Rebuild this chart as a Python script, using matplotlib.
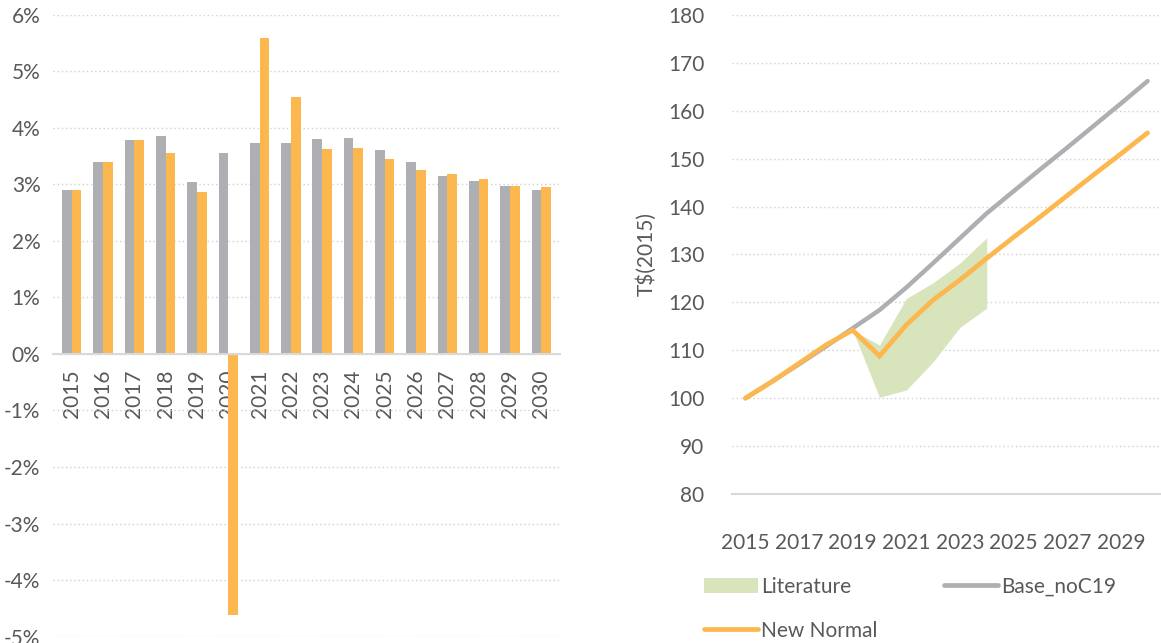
import numpy as np
import matplotlib
matplotlib.use("Agg")
from matplotlib import pyplot as plt
from matplotlib.patches import Patch
from matplotlib.lines import Line2D
from matplotlib.ticker import FuncFormatter

plt.rcParams['font.family'] = ['Lato', 'DejaVu Sans']

# ---- data ----
years = list(range(2015, 2031))
growth_base = [2.91, 3.40, 3.78, 3.85, 3.05, 3.56, 3.74, 3.74, 3.81, 3.83,
               3.61, 3.39, 3.15, 3.07, 2.98, 2.90]
growth_new = [2.91, 3.40, 3.78, 3.55, 2.87, -4.62, 5.59, 4.55, 3.63, 3.65,
              3.45, 3.26, 3.18, 3.09, 2.98, 2.95]

gdp_base = [100.0, 103.5, 107.1, 110.8, 114.6, 118.4, 123.1, 128.2, 133.4, 138.6,
            143.2, 147.8, 152.3, 156.9, 161.5, 166.2]
gdp_new = [100.0, 103.5, 107.3, 111.1, 114.2, 108.8, 115.3, 120.5, 124.7, 129.2,
           133.6, 137.9, 142.3, 146.7, 151.0, 155.4]
lit_years = [2019, 2020, 2021, 2022, 2023, 2024]
lit_low = [114.2, 100.2, 101.7, 107.6, 114.8, 118.8]
lit_high = [114.2, 111.1, 120.8, 124.1, 128.2, 133.5]

# ---- style ----
GRAY = '#AEAFB2'
ORANGE = '#FDB74F'
GREEN = '#D8E4BC'
TXT = '#595959'
GRID = '#D0D0D0'
FS = 15

fig = plt.figure(figsize=(11.61, 6.43), dpi=100)

### Left: growth bars ###
ax1 = fig.add_axes([0.0456, 0.0101, 0.4368, 0.9666])
x = np.arange(len(years))
w = 0.31
ax1.bar(x - w / 2, growth_base, width=w, color=GRAY, zorder=2)
ax1.bar(x + w / 2, growth_new, width=w, color=ORANGE, zorder=2)
ax1.spines['bottom'].set_position(('data', 0))   # resets ticks, so do it first
ax1.spines['bottom'].set_color('#D9D9D9')
ax1.spines['bottom'].set_linewidth(1.5)
ax1.spines['bottom'].set_zorder(3)
for s in ['left', 'right', 'top']:
    ax1.spines[s].set_visible(False)
ax1.set_ylim(-5, 6)
ax1.set_xlim(-0.6, len(years) - 0.4)
ax1.set_yticks(range(-5, 7))
ax1.yaxis.set_major_formatter(FuncFormatter(lambda v, p: f"{int(v)}%"))
ax1.set_xticks(x)
ax1.set_xticklabels([str(y) for y in years], rotation=90)
ax1.tick_params(axis='x', length=0, pad=11, labelsize=FS, labelcolor=TXT)
ax1.tick_params(axis='y', length=0, pad=9, labelsize=FS, labelcolor=TXT)
ax1.grid(axis='y', color=GRID, linestyle=(0, (1, 2)), linewidth=1, zorder=0)
ax1.set_axisbelow(True)

### Right: GDP level ###
ax2 = fig.add_axes([0.6305, 0.2317, 0.3695, 0.745])
ax2.fill_between([years.index(y) for y in lit_years], lit_low, lit_high,
                 color=GREEN, linewidth=0, zorder=1)
ax2.plot(x, gdp_base, color=GRAY, lw=3.2, solid_capstyle='round', zorder=2)
ax2.plot(x, gdp_new, color=ORANGE, lw=3.4, solid_capstyle='round',
         solid_joinstyle='miter', zorder=3)
ax2.set_ylim(80, 180)
ax2.set_yticks(range(80, 181, 10))
ax2.set_xlim(-0.5, len(years) - 0.5)
ax2.set_xticks(x[::2])
ax2.set_xticklabels([str(y) for y in years[::2]])
ax2.set_ylabel('T$(2015)', fontsize=FS, color=TXT, labelpad=8)
ax2.spines['bottom'].set_color('#D9D9D9')
ax2.spines['bottom'].set_linewidth(1.5)
for s in ['left', 'right', 'top']:
    ax2.spines[s].set_visible(False)
ax2.tick_params(axis='x', length=0, pad=28, labelsize=FS, labelcolor=TXT)
ax2.tick_params(axis='y', length=0, pad=20, labelsize=FS, labelcolor=TXT)
ax2.grid(axis='y', color=GRID, linestyle=(0, (1, 2)), linewidth=1, zorder=0)
ax2.set_axisbelow(True)

handles = [Patch(facecolor=GREEN, edgecolor='none'),
           Line2D([], [], color=ORANGE, lw=3.4, solid_capstyle='round'),
           Line2D([], [], color=GRAY, lw=3.4, solid_capstyle='round')]
labels = ['Literature', 'New Normal', 'Base_noC19']
leg = fig.legend(handles, labels, ncol=2, loc='upper left',
                 bbox_to_anchor=(0.606, 0.103), frameon=False, fontsize=FS,
                 handlelength=2.6, handletextpad=0.15, columnspacing=3.2,
                 labelspacing=1.15, borderpad=0, borderaxespad=0)
for t in leg.get_texts():
    t.set_color(TXT)

fig.savefig('out.png', dpi=100)
